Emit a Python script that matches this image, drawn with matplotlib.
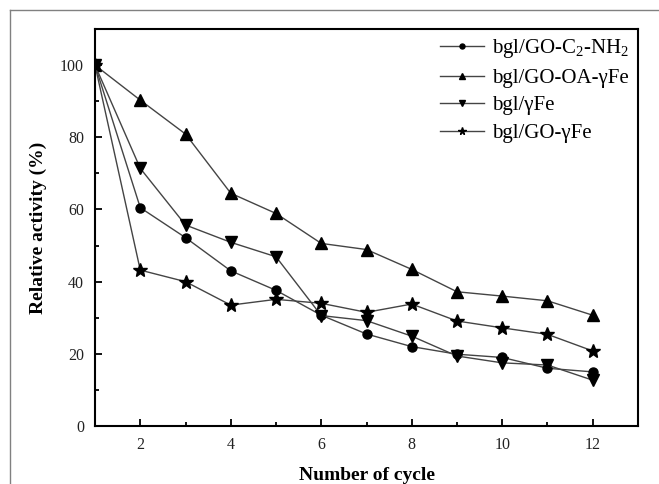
import matplotlib
matplotlib.use("Agg")
import matplotlib.pyplot as plt
from matplotlib.lines import Line2D

# Data
cycles = [1, 2, 3, 4, 5, 6, 7, 8, 9, 10, 11, 12]
go_c2_nh2 = [100, 60.5, 52.2, 43.0, 37.6, 30.7, 25.5, 22.0, 19.9, 19.0, 16.0, 15.0]
go_oa_fe = [100, 90.3, 80.9, 64.5, 58.9, 50.6, 48.9, 43.4, 37.2, 36.0, 34.7, 30.7]
fe_only = [100, 71.4, 55.7, 50.9, 46.9, 30.6, 29.2, 24.9, 19.4, 17.5, 16.9, 12.7]
go_fe = [100, 43.2, 40.0, 33.5, 35.1, 34.0, 31.5, 33.8, 29.1, 27.2, 25.4, 20.8]

labels = [r"bgl/GO-C$_\mathrm{2}$-NH$_\mathrm{2}$", "bgl/GO-OA-γFe", "bgl/γFe", "bgl/GO-γFe"]
markers = ["o", "^", "v", "*"]
msizes = [6.5, 8.5, 8.5, 10]

plt.rcParams["font.family"] = ["Liberation Serif", "DejaVu Serif"]
plt.rcParams["mathtext.fontset"] = "custom"
plt.rcParams["mathtext.rm"] = "Liberation Serif"
plt.rcParams["mathtext.it"] = "Liberation Serif:italic"
plt.rcParams["mathtext.bf"] = "Liberation Serif:bold"

fig = plt.figure(figsize=(6.59, 4.84), dpi=100)
ax = fig.add_axes([0.1442, 0.1198, 0.8239, 0.8202])

# thin grey frame round the picture (top and left only are visible)
fig.add_artist(Line2D([10 / 659, 1], [1 - 10 / 484, 1 - 10 / 484], transform=fig.transFigure,
                      color="#808080", lw=1))
fig.add_artist(Line2D([10 / 659, 10 / 659], [0, 1 - 10 / 484], transform=fig.transFigure,
                      color="#808080", lw=1))

series = [go_c2_nh2, go_oa_fe, fe_only, go_fe]
for vals, lab, mk, ms in zip(series, labels, markers, msizes):
    ax.plot(cycles, vals, color="#444444", lw=1, marker=mk, markersize=ms,
            markerfacecolor="black", markeredgecolor="black", label=lab)

ax.set_xlim(1, 13)
ax.set_ylim(0, 110)
ax.set_xticks([2, 4, 6, 8, 10, 12])
ax.set_xticks([3, 5, 7, 9, 11], minor=True)
ax.set_yticks([0, 20, 40, 60, 80, 100])
ax.set_yticks([10, 30, 50, 70, 90], minor=True)
ax.tick_params(which="major", direction="in", length=5, width=1.3, labelsize=11.5, pad=8,
               colors="black", labelcolor="#222222")
ax.tick_params(which="minor", direction="in", length=3, width=1.3)
for sp in ax.spines.values():
    sp.set_linewidth(1.5)

ax.set_xlabel("Number of cycle", fontsize=14, fontweight="bold", labelpad=10)
ax.set_ylabel("Relative activity (%)", fontsize=14, fontweight="bold", labelpad=9)

ax.legend(loc="upper right", frameon=False, fontsize=15, handlelength=2.1,
          handletextpad=0.4, labelspacing=0.38, markerscale=0.55,
          borderaxespad=0.2, borderpad=0.2)

fig.savefig("out.png", dpi=100)
